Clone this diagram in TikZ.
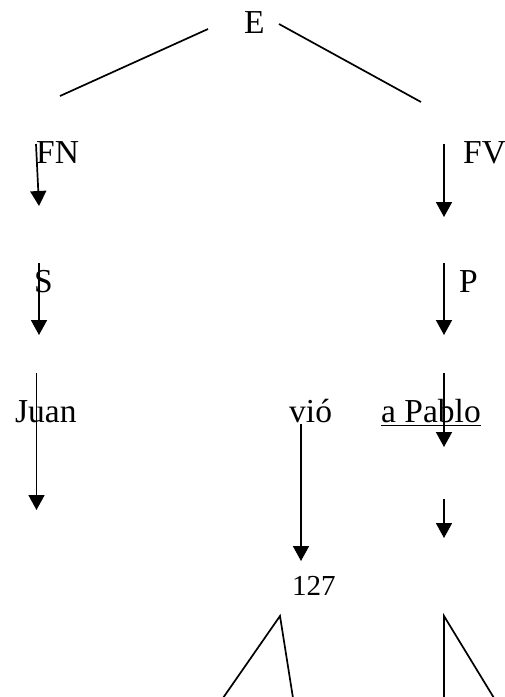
\documentclass[tikz,border=0pt]{standalone}
\usepackage{fontspec}
\setmainfont{Liberation Serif}
\usetikzlibrary{arrows.meta,calc}
\begin{document}
\begin{tikzpicture}[x=1pt,y=-1pt,
  lbl/.style={anchor=base west,inner sep=0pt,font=\fontsize{33.5}{36}\selectfont},
  num/.style={anchor=base west,inner sep=0pt,font=\fontsize{29}{32}\selectfont},
  edge/.style={line width=1.7pt},
  arr/.style={line width=1.7pt,-{Triangle[width=16pt,length=15pt]}}]
\useasboundingbox (0,0) rectangle (505,697);

% labels
\node[lbl] (E) at (244,33) {E};
\node[lbl] (FN) at (36,163) {FN};
\node[lbl] (FV) at (463,163) {FV};
\node[lbl] (S) at (34,292) {S};
\node[lbl] (P) at (459,292) {P};
\node[lbl] (Juan) at (15,422) {Juan};
\node[lbl] (vio) at (289,422) {vió};
\node[lbl] (aPablo) at (381,422) {a Pablo};
\node[num] (n127) at (292,595) {127};
\draw[edge] ($(aPablo.base west)+(0,3.5)$) -- ($(aPablo.base east)+(0,3.5)$);

% branches from E
\coordinate (e1) at (208,29);  \coordinate (e2) at (60,96);
\coordinate (e3) at (279,24);  \coordinate (e4) at (421,102);
\draw[edge] (e1) -- (e2);
\draw[edge] (e3) -- (e4);

% arrows
\coordinate (a1) at (36,144);  \coordinate (b1) at (39,206);
\coordinate (a2) at (444,144); \coordinate (b2) at (444,217);
\coordinate (a3) at (39,263);  \coordinate (b3) at (39,335);
\coordinate (a4) at (444,263); \coordinate (b4) at (444,335);
\coordinate (a5) at (36.5,373);\coordinate (b5) at (36.5,510);
\coordinate (a6) at (301,424); \coordinate (b6) at (301,561);
\coordinate (a7) at (444,373); \coordinate (b7) at (444,447);
\coordinate (a8) at (444,499); \coordinate (b8) at (444,538);
\foreach \i in {1,...,8} \draw[arr] (a\i) -- (b\i);

% triangles
\coordinate (t1) at (280,616); \coordinate (t2) at (223,698); \coordinate (t3) at (293,698);
\coordinate (t4) at (444,616); \coordinate (t5) at (444,698); \coordinate (t6) at (494,698);
\draw[edge] (t2) -- (t1) -- (t3);
\draw[edge] (t5) -- (t4) -- (t6);
\end{tikzpicture}
\end{document}
